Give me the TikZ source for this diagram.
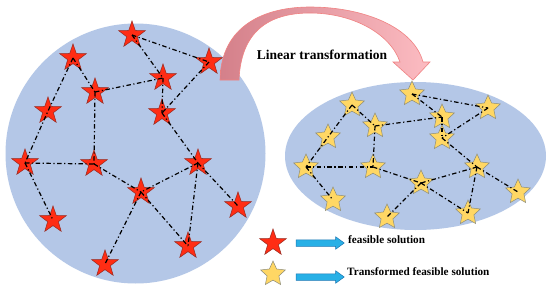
\documentclass[tikz,border=0pt]{standalone}
\usepackage{fontspec}
\setmainfont{Liberation Serif}
\usetikzlibrary{shapes.geometric,shapes.arrows}
\definecolor{bg}{RGB}{180,199,231}
\definecolor{redstar}{RGB}{255,45,20}
\definecolor{redline}{RGB}{150,40,30}
\definecolor{yelstar}{RGB}{255,215,100}
\definecolor{yelline}{RGB}{140,140,120}
\definecolor{arcL}{RGB}{212,128,138}
\definecolor{arcR}{RGB}{252,188,194}
\definecolor{arcE}{RGB}{240,130,130}
\definecolor{legfill}{RGB}{40,176,230}
\definecolor{legline}{RGB}{30,120,180}
\tikzset{
  rstar/.style={star, star points=5, star point ratio=2.5, minimum size=28pt, inner sep=0pt,
    fill=redstar, draw=redline, line width=0.5pt},
  ystar/.style={star, star points=5, star point ratio=2.1, minimum size=26pt, inner sep=0pt,
    fill=yelstar, draw=yelline, line width=0.5pt},
  edge/.style={black, line width=1.2pt, dash pattern=on 4.5pt off 2.5pt on 1.2pt off 2.5pt},
  legarrow/.style={single arrow, fill=legfill, draw=legline, line width=0.5pt, inner xsep=0pt,
    inner ysep=3pt, minimum height=48pt, single arrow head extend=3pt,
    single arrow tip angle=72, single arrow head indent=0pt},
  lab/.style={font=\bfseries\fontsize{11.2}{13}\selectfont, anchor=base west, inner sep=0pt},
}
\begin{document}
\begin{tikzpicture}[x=1pt,y=-1pt]
\useasboundingbox (0,0) rectangle (550,292);
\fill[white] (0,0) rectangle (550,292);
% regions
\fill[bg] (135.5,153.5) circle[radius=130pt];
\fill[bg] (415.5,156) ellipse[x radius=130.5pt, y radius=74pt];
% curved arrow
\path[left color=arcL, right color=arcR, draw=arcE, line width=0.6pt]
  (220,80) .. controls (221,25) and (265,7) .. (310,7)
  .. controls (365,7) and (414,28) .. (423,62)
  -- (430,62) -- (413,80) -- (393,62) -- (400,62)
  .. controls (390,33) and (352,13) .. (310,13)
  .. controls (268,13) and (241,32) .. (239,80) -- cycle;
\node[font=\bfseries\fontsize{13.5}{16}\selectfont, anchor=base, inner sep=0pt] (title) at (322,59) {Linear transformation};
% red stars
\node[rstar] (r1) at (132,35) {};
\node[rstar] (r2) at (73,58) {};
\node[rstar] (r3) at (209,62) {};
\node[rstar] (r4) at (163,78) {};
\node[rstar] (r5) at (95,92) {};
\node[rstar] (r6) at (48,111) {};
\node[rstar] (r7) at (162,113) {};
\node[rstar] (r8) at (25,163) {};
\node[rstar] (r9) at (94,164) {};
\node[rstar] (r10) at (198,163) {};
\node[rstar] (r11) at (141,192) {};
\node[rstar] (r12) at (238,206) {};
\node[rstar] (r13) at (53,220) {};
\node[rstar] (r14) at (188,246) {};
\node[rstar] (r15) at (105,264) {};
% yellow stars
\node[ystar] (y1) at (412,94) {};
\node[ystar] (y2) at (352,105) {};
\node[ystar] (y3) at (488,108) {};
\node[ystar] (y4) at (442,117) {};
\node[ystar] (y5) at (375,126) {};
\node[ystar] (y6) at (328,137) {};
\node[ystar] (y7) at (442,138) {};
\node[ystar] (y8) at (306,167) {};
\node[ystar] (y9) at (373,167) {};
\node[ystar] (y10) at (477,167) {};
\node[ystar] (y11) at (421,183) {};
\node[ystar] (y12) at (518,192) {};
\node[ystar] (y13) at (333,200) {};
\node[ystar] (y14) at (468,213) {};
\node[ystar] (y15) at (387,217) {};
% edges
\foreach \p in {r,y}{
  \draw[edge] (\p1.center) -- (\p3.center);
  \draw[edge] (\p1.center) -- (\p4.center);
  \draw[edge] (\p2.center) -- (\p5.center);
  \draw[edge] (\p5.center) -- (\p4.center);
  \draw[edge] (\p4.center) -- (\p7.center);
  \draw[edge] (\p3.center) -- (\p7.center);
  \draw[edge] (\p2.center) -- (\p6.center) -- (\p8.center);
  \draw[edge] (\p5.center) -- (\p9.center);
  \draw[edge] (\p8.center) -- (\p9.center);
  \draw[edge] (\p8.center) -- (\p13.center);
  \draw[edge] (\p9.center) -- (\p11.center);
  \draw[edge] (\p7.center) -- (\p10.center);
  \draw[edge] (\p10.center) -- (\p11.center);
  \draw[edge] (\p10.center) -- (\p12.center);
  \draw[edge] (\p10.center) -- (\p14.center);
  \draw[edge] (\p11.center) -- (\p14.center);
  \draw[edge] (\p11.center) -- (\p15.center);
}
% legend
\node[rstar] (lr) at (273,243) {};
\node[ystar] (ly) at (273,274) {};
\node[legarrow] (la1) at (318,243) {};
\node[legarrow] (la2) at (318,277) {};
\node[lab] (lt1) at (348,243) {feasible solution};
\node[lab] (lt2) at (347,275) {Transformed feasible solution};
\end{tikzpicture}
\end{document}
